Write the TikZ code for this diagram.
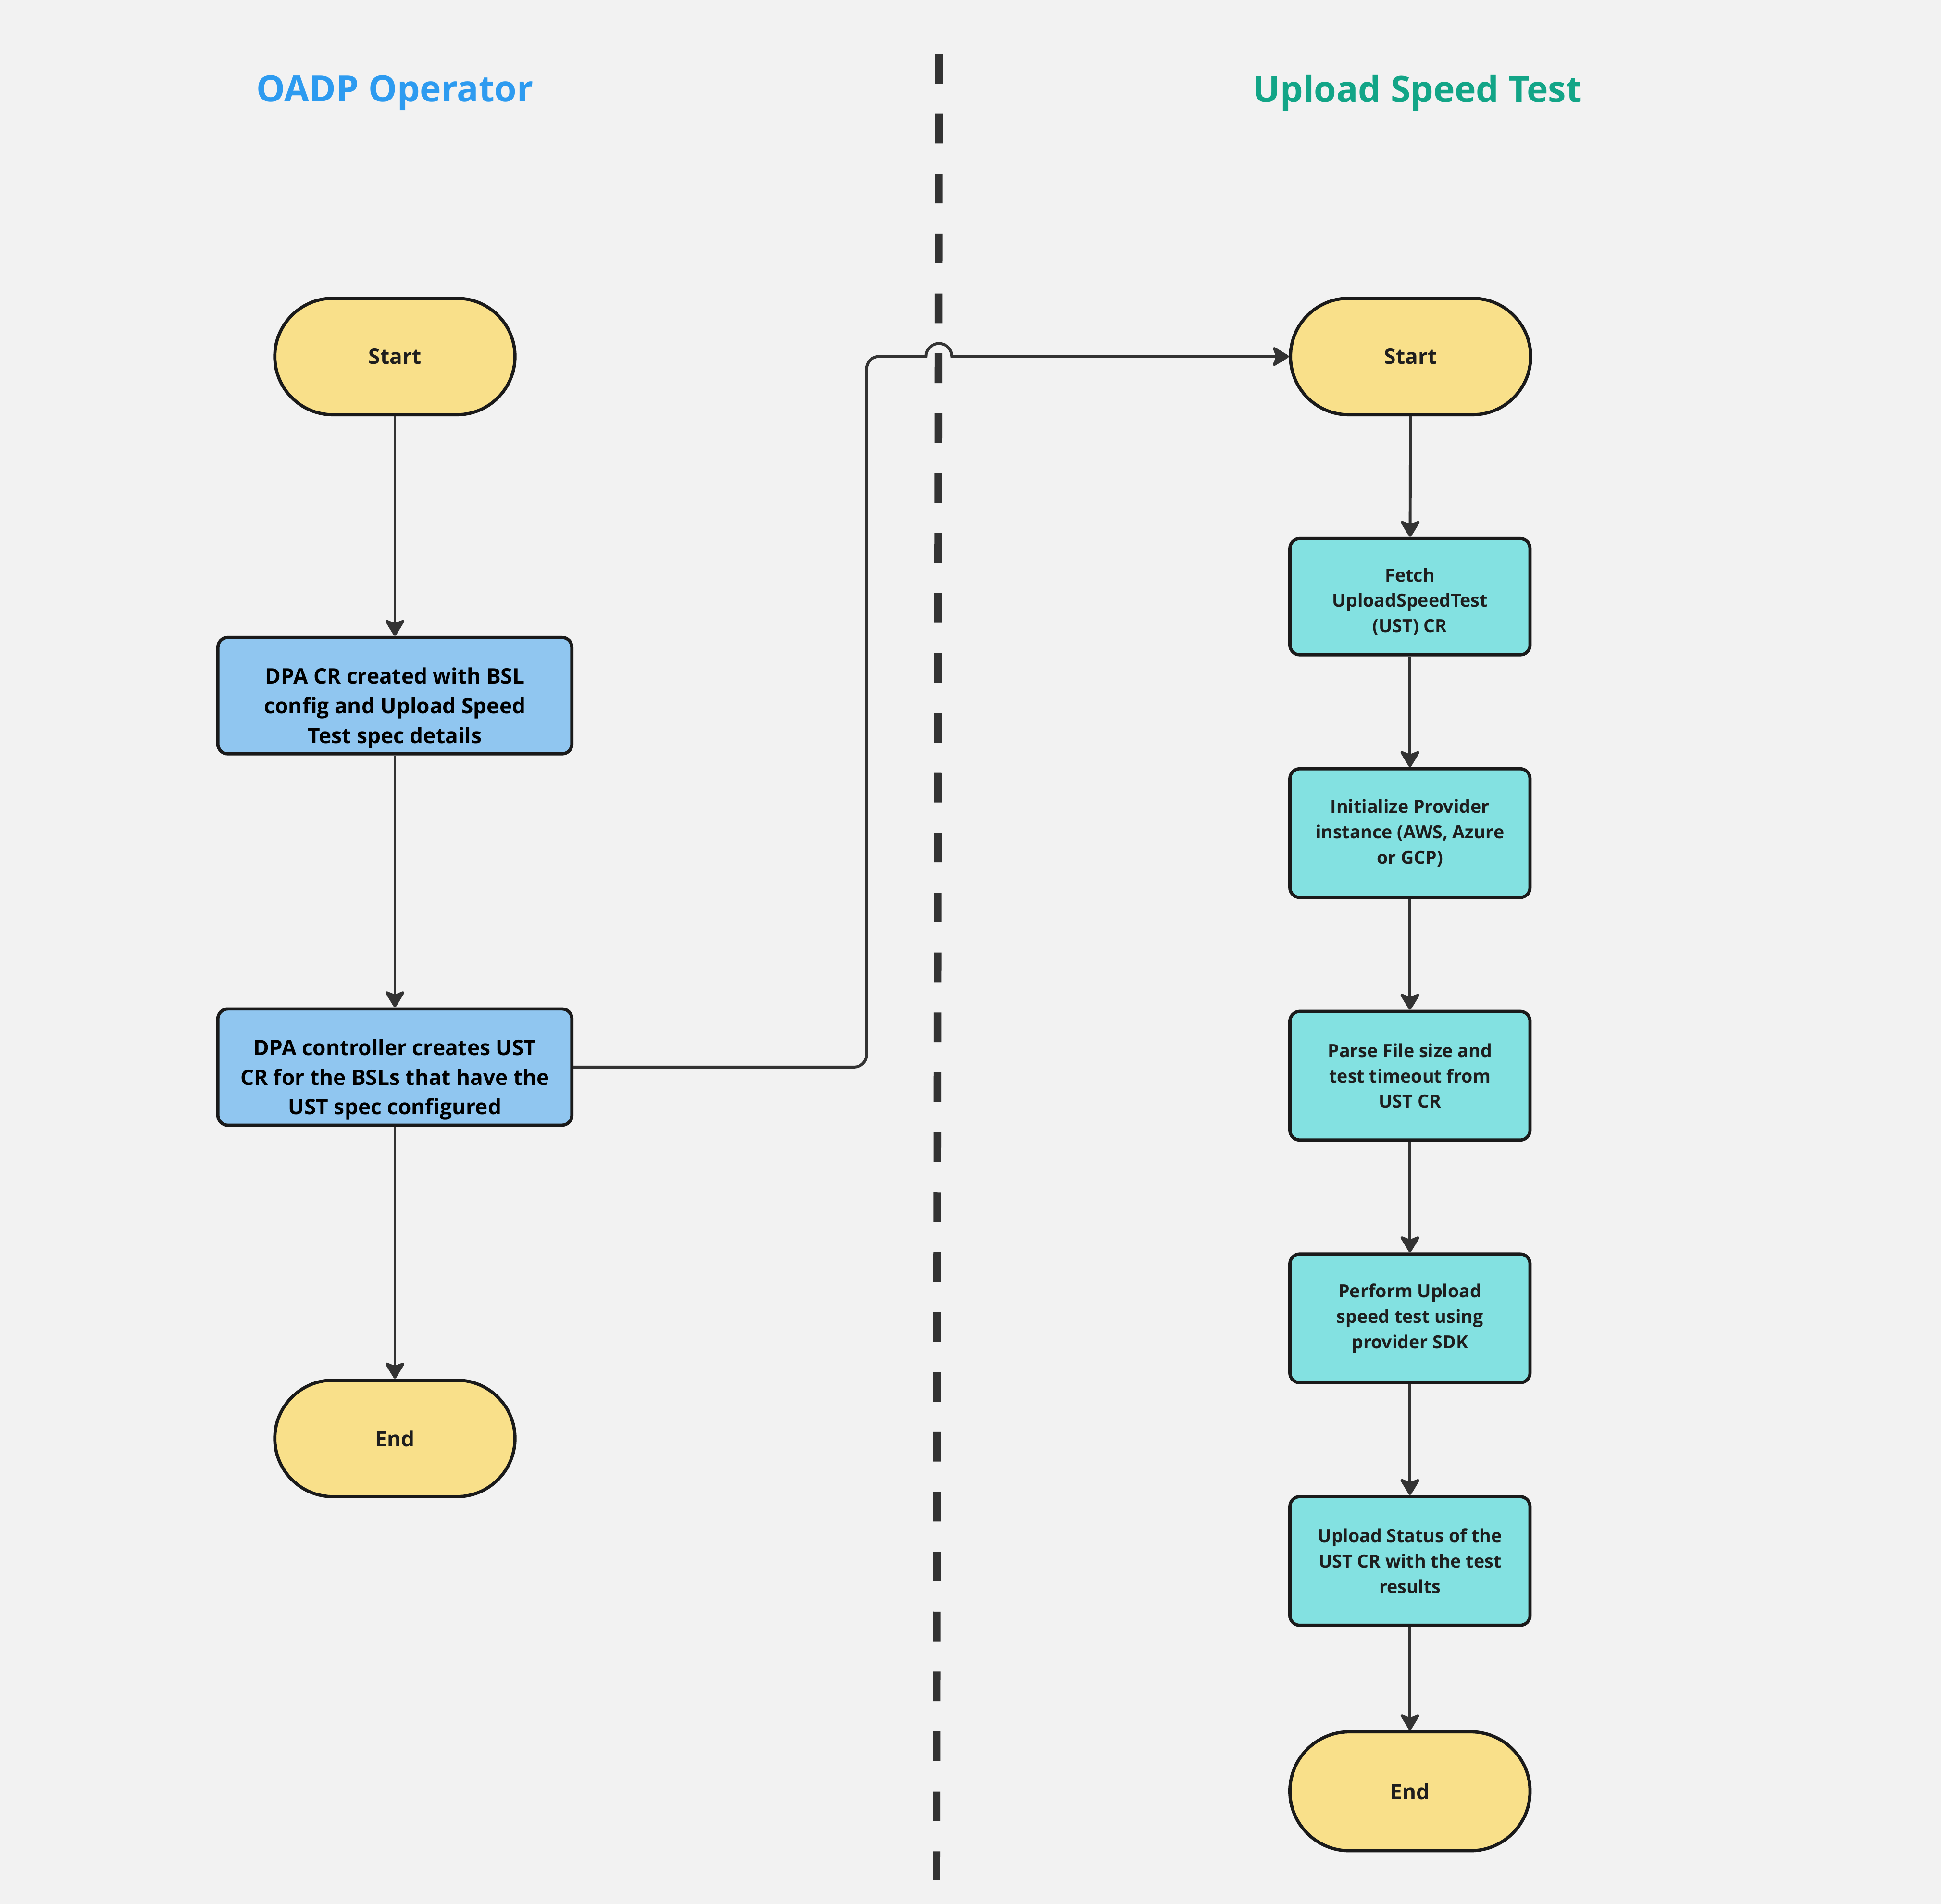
\documentclass[tikz,border=0pt]{standalone}
\usepackage{fontspec}
\setmainfont{Open Sans}
\usetikzlibrary{arrows.meta}
\definecolor{bg}{HTML}{F2F2F2}
\definecolor{ttlblue}{HTML}{2D9BF0}
\definecolor{ttlteal}{HTML}{12A587}
\definecolor{termfill}{HTML}{F9E08A}
\definecolor{bluefill}{HTML}{90C6F0}
\definecolor{cyanfill}{HTML}{83E1E1}
\definecolor{edge}{HTML}{1A1A1A}
\definecolor{conncol}{HTML}{333333}
\definecolor{txt}{HTML}{1E1E1E}
\tikzset{
  terminal/.style={draw=edge, line width=2.6pt, fill=termfill, rounded corners=46.9pt,
    minimum width=194pt, minimum height=94pt, inner sep=0pt,
    font=\bfseries\fontsize{17.2}{24}\selectfont, text=txt},
  leftbox/.style={draw=edge, line width=2.6pt, fill=bluefill, rounded corners=8pt,
    minimum width=286pt, minimum height=94pt, inner sep=0pt},
  lefttext/.style={inner sep=0pt, align=center,
    font=\bfseries\fontsize{17.2}{24}\selectfont, text=black},
  rightbox/.style={draw=edge, line width=2.6pt, fill=cyanfill, rounded corners=8pt,
    minimum width=194pt, minimum height=104pt, inner sep=0pt, align=center,
    font=\bfseries\fontsize{14.6}{20.5}\selectfont, text=txt},
  righttext/.style={inner sep=0pt, align=center,
    font=\bfseries\fontsize{14.6}{20.5}\selectfont, text=txt},
  title/.style={font=\bfseries\fontsize{29.2}{36}\selectfont},
  conn/.style={draw=conncol, line width=2.3pt,
    -{Stealth[length=15pt,width=18pt,inset=3.5pt,round]}},
  divider/.style={draw=conncol, line width=6pt, dash pattern=on 24pt off 24.4pt}
}
\begin{document}
\begin{tikzpicture}[x=1pt,y=-1pt]
\fill[bg] (0,0) rectangle (1568,1538);
\useasboundingbox (0,0) rectangle (1568,1538);

% titles
\node[title, text=ttlblue] (t1) at (319,75) {OADP Operator};
\node[title, text=ttlteal] (t2) at (1145,75) {Upload Speed Test};

% divider
\coordinate (dtop) at (758.5,43.5);
\coordinate (dbot) at (756.5,1519);
\draw[divider] (dtop) -- (dbot);

% left column
\node[terminal] (lstart) at (319,288) {Start};
\node[leftbox] (dpa) at (319,562) {};
\node[lefttext] (dpatxt) at (319,572) {DPA CR created with BSL\\config and Upload Speed\\Test spec details};
\node[leftbox] (ctrl) at (319,862) {};
\node[lefttext] (ctrltxt) at (319,872) {DPA controller creates UST\\CR for the BSLs that have the\\UST spec configured};
\node[terminal] (lend) at (319,1162) {End};

% right column
\node[terminal] (rstart) at (1139.5,288) {Start};
\node[rightbox, minimum height=94pt] (fetch) at (1139,482) {};
\node[righttext] (fetchtxt) at (1139,486) {Fetch\\UploadSpeedTest\\(UST) CR};
\node[rightbox] (init) at (1139,673) {Initialize Provider\\instance (AWS, Azure\\or GCP)};
\node[rightbox] (parse) at (1139,869) {Parse File size and\\test timeout from\\UST CR};
\node[rightbox] (perf) at (1139,1065) {Perform Upload\\speed test using\\provider SDK};
\node[rightbox] (stat) at (1139,1261) {Upload Status of the\\UST CR with the test\\results};
\node[terminal, minimum height=96pt, rounded corners=47.9pt] (rend) at (1139,1447) {End};

% left connectors
\draw[conn] (lstart) -- (dpa);
\draw[conn] (dpa) -- (ctrl);
\draw[conn] (ctrl) -- (lend);

% right connectors
\draw[conn] (rstart) -- (fetch);
\draw[conn] (fetch) -- (init);
\draw[conn] (init) -- (parse);
\draw[conn] (parse) -- (perf);
\draw[conn] (perf) -- (stat);
\draw[conn] (stat) -- (rend);

% cross connector with bridge over divider
\draw[conn] (ctrl.east) -- (690,862)
  arc[start angle=-90, end angle=0, radius=10pt] -- (700,298)
  arc[start angle=180, end angle=90, radius=10pt] -- (748,288)
  arc[start angle=180, end angle=0, radius=10.5pt] -- (rstart.west);
\end{tikzpicture}
\end{document}
